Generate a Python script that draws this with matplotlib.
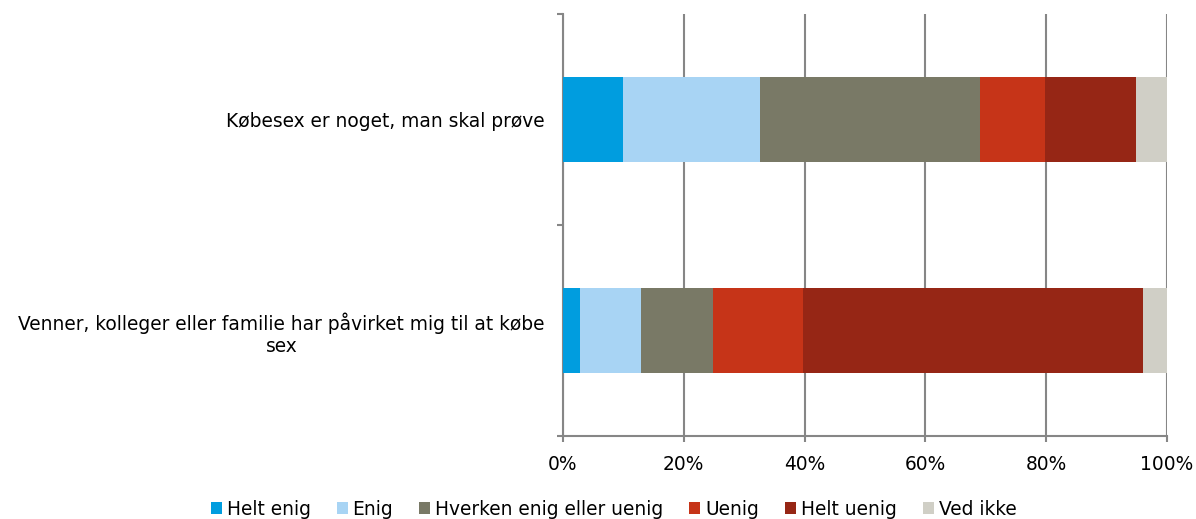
import numpy as np
import matplotlib.pyplot as plt

categories = ["Købesex er noget, man skal prøve",
              "Venner, kolleger eller familie har påvirket mig til at købe\nsex"]
series = ["Helt enig", "Enig", "Hverken enig eller uenig", "Uenig", "Helt uenig", "Ved ikke"]
helt_enig = [9.9, 2.9]
enig = [22.7, 10.1]
hverken = [36.5, 11.9]
uenig = [10.7, 14.9]
helt_uenig = [15.0, 56.2]
ved_ikke = [5.2, 4.0]
colors = ["#009DDF", "#A8D4F4", "#797966", "#C63418", "#962615", "#D0CFC6"]

values = [helt_enig, enig, hverken, uenig, helt_uenig, ved_ikke]

plt.rcParams['font.family'] = ['DejaVu Sans']
fs = 13.4
fig = plt.figure(figsize=(11.96, 5.19), dpi=100)
ax = fig.add_axes([0.4707, 0.160, 0.505, 0.813])

y = np.arange(len(categories))
left = np.zeros(len(categories))
for name, vals, c in zip(series, values, colors):
    ax.barh(y, vals, left=left, height=0.4, color=c, label=name, zorder=3)
    left += np.array(vals)

ax.set_xlim(0, 100)
ax.set_ylim(1.5, -0.5)
ax.set_xticks(np.arange(0, 101, 20))
ax.set_xticklabels([f"{v}%" for v in range(0, 101, 20)], fontsize=fs)
ax.grid(axis='x', color='#868686', linewidth=1.5, zorder=0)

ax.set_yticks([-0.5, 0.5, 1.5])
ax.set_yticklabels([])
ax.set_yticks(y, minor=True)
ax.set_yticklabels(categories, minor=True, fontsize=fs, multialignment='center')
ax.tick_params(axis='y', which='minor', length=0, pad=13)
ax.tick_params(axis='y', which='major', length=4, color='#868686', width=1.5)
ax.tick_params(axis='x', length=4, color='#868686', width=1.5, pad=10)

for s in ['top', 'right']:
    ax.spines[s].set_visible(False)
for s in ['left', 'bottom']:
    ax.spines[s].set_color('#868686')
    ax.spines[s].set_linewidth(1.5)

fig.legend(loc='center', bbox_to_anchor=(0.513, 0.019), ncol=6, frameon=False,
           fontsize=fs, handlelength=0.6, handleheight=0.6, handletextpad=0.25,
           columnspacing=1.4)

fig.savefig("out.png", dpi=100)
